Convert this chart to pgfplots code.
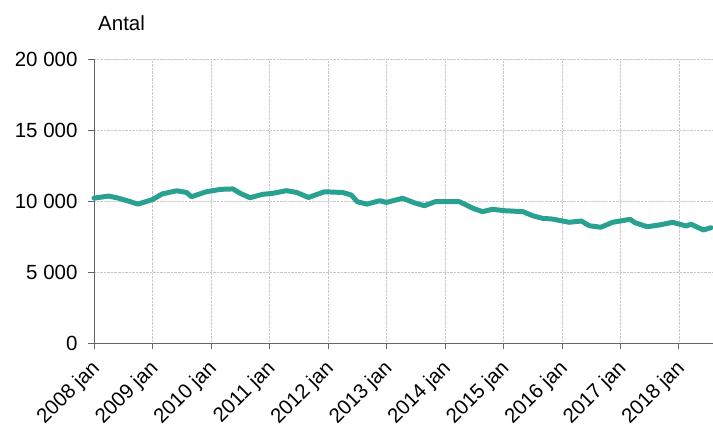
\documentclass[border=0pt]{standalone}
\usepackage{pgfplots}
\pgfplotsset{compat=1.18}
\usepackage{fontspec}
\setmainfont{Liberation Sans}
\definecolor{lineteal}{RGB}{41,161,145}
\definecolor{axgrey}{RGB}{100,100,100}
\definecolor{gridgrey}{RGB}{200,200,200}
\begin{document}
\begin{tikzpicture}
\begin{axis}[
  scale only axis,
  width=619bp, height=284bp,
  xmin=0, xmax=127,
  ymin=0, ymax=20000,
  scaled y ticks=false,
  axis x line=bottom, axis y line=left,
  axis line style={axgrey, line width=1pt, -},
  xtick={0,12,...,120},
  xticklabels={2008 jan,2009 jan,2010 jan,2011 jan,2012 jan,2013 jan,2014 jan,2015 jan,2016 jan,2017 jan,2018 jan},
  ytick={0,5000,10000,15000,20000},
  yticklabels={0,5 000,10 000,15 000,20 000},
  tick style={axgrey, line width=0.8pt},
  tick align=outside,
  major tick length=6bp,
  xticklabel style={xshift=-4bp, yshift=-8bp, rotate=45, anchor=north east, font=\fontsize{20.5bp}{23bp}\selectfont, inner sep=1bp},
  yticklabel style={font=\fontsize{20.5bp}{23bp}\selectfont, xshift=-7bp},
  grid=major,
  major grid style={gridgrey, densely dotted, line width=0.6pt},
  clip=false,
]
\addplot[lineteal, line width=5pt, line join=round, line cap=round] coordinates {
(0,10200) (3,10350) (5,10200) (7,10000) (9,9780) (12,10100) (14,10500)
(17,10720) (19,10600) (20,10300) (23,10650) (26,10820) (28.5,10850)
(30,10540) (32,10230) (34.6,10470) (36.7,10540) (39.5,10730) (41.6,10600)
(44,10250) (47.3,10650) (51,10600) (52.8,10420) (54,9950) (56,9780)
(58.6,10020) (60,9900) (63.3,10190) (66,9840) (67.8,9670) (70,9950)
(75,9950) (77.7,9490) (79.7,9250) (81.8,9420) (84,9320) (88,9250)
(90,8960) (92,8780) (94,8730) (97.5,8500) (100,8590) (101.6,8260)
(104,8150) (106.4,8500) (110,8710) (111,8470) (113.5,8190) (116,8310)
(118.7,8500) (121.5,8240) (122.5,8360) (125,7960) (126.6,8120)
};
\end{axis}
\node[anchor=base west, font=\fontsize{20.5bp}{23bp}\selectfont, inner sep=0pt] at ([shift={(4bp,28bp)}]current axis.north west) {Antal};
\pgfresetboundingbox
\path[use as bounding box] ([shift={(-94bp,-85bp)}]current axis.south west) rectangle ([shift={(0bp,59bp)}]current axis.north east);
\end{tikzpicture}
\end{document}
